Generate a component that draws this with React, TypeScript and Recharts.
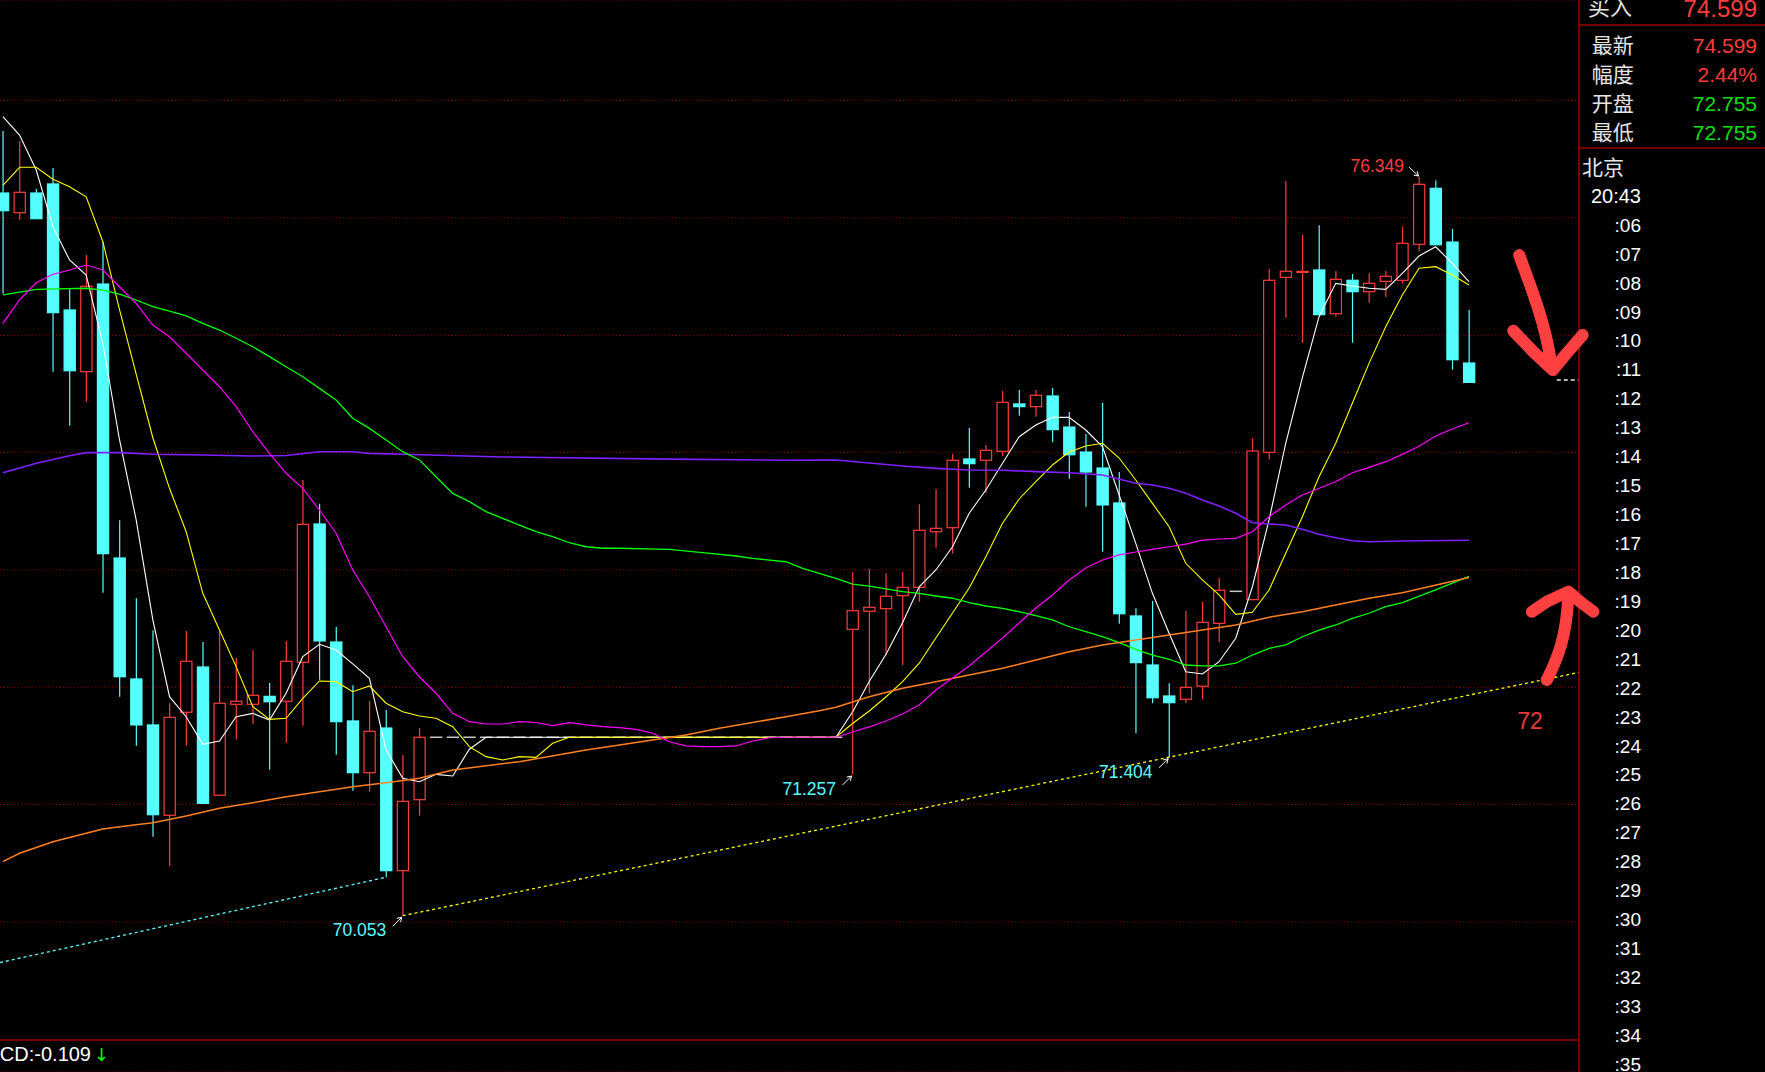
import {
  ComposedChart,
  Bar,
  Line,
  XAxis,
  YAxis,
  CartesianGrid,
  ReferenceLine,
  ReferenceDot,
} from "recharts";

// candles, oldest first (index 0 is the half-visible bar at the left edge)
const OPEN = [
  76.213, 76.045, 76.213, 76.29, 75.216, 74.69, 75.437, 73.102, 72.071, 71.679,
  70.909, 71.787, 72.173, 71.08, 71.855, 71.855, 71.923, 71.881, 72.213, 73.392,
  72.386, 71.713, 71.272, 71.653, 70.437, 71.042,
  71.574, 71.574, 71.574, 71.574, 71.574, 71.574, 71.574, 71.574, 71.574, 71.574,
  71.574, 71.574, 71.574, 71.574, 71.574, 71.574, 71.574, 71.574, 71.574, 71.574,
  71.574, 71.574, 71.574, 71.574, 71.574,
  72.494, 72.648, 72.67, 72.781, 72.852, 73.326, 73.36, 73.946, 73.935, 74.011,
  74.415, 74.392, 74.483, 74.218, 74.005, 73.869, 73.571, 72.608, 72.19, 71.926,
  71.898, 72.009, 72.545, 72.818, 72.747, 74.003, 75.494, 75.536, 75.557, 75.184,
  75.469, 75.372, 75.46, 75.469, 75.776, 76.253, 75.795, 74.764,
];
const HIGH = [
  76.741, 76.656, 76.247, 76.426, 75.392, 75.684, 75.798, 73.423, 72.759, 72.486,
  71.864, 72.48, 72.386, 72.488, 72.25, 72.318, 72.037, 72.395, 73.767, 73.565,
  72.514, 72.017, 71.883, 71.807, 71.423, 71.651,
  71.574, 71.574, 71.574, 71.574, 71.574, 71.574, 71.574, 71.574, 71.574, 71.574,
  71.574, 71.574, 71.574, 71.574, 71.574, 71.574, 71.574, 71.574, 71.574, 71.574,
  71.574, 71.574, 71.574, 71.574, 71.574,
  72.98, 73.008, 72.972, 72.983, 73.56, 73.69, 73.988, 74.21, 74.065, 74.525,
  74.534, 74.534, 74.551, 74.346, 74.159, 74.423, 73.835, 72.673, 72.736, 72.034,
  72.65, 72.727, 72.932, 72.818, 74.122, 75.565, 76.315, 75.855, 75.938, 75.548,
  75.523, 75.531, 75.548, 75.929, 76.349, 76.321, 75.906, 75.216,
];
const LOW = [
  75.355, 75.985, 75.994, 74.69, 74.23, 74.434, 72.806, 71.92, 71.502, 70.727,
  70.48, 71.502, 71.011, 71.08, 71.557, 71.685, 71.298, 71.528, 71.673, 72.065,
  71.426, 71.119, 71.11, 70.381, 70.053, 70.906,
  71.574, 71.574, 71.574, 71.574, 71.574, 71.574, 71.574, 71.574, 71.574, 71.574,
  71.574, 71.574, 71.574, 71.574, 71.574, 71.574, 71.574, 71.574, 71.574, 71.574,
  71.574, 71.574, 71.574, 71.574, 71.574,
  71.257, 71.949, 72.275, 72.19, 72.73, 73.19, 73.139, 73.701, 73.659, 73.971,
  74.315, 74.306, 74.088, 73.778, 73.539, 73.156, 72.542, 71.608, 71.864, 71.404,
  71.864, 71.898, 72.384, 72.818, 72.747, 73.943, 75.15, 74.937, 75.176, 75.159,
  74.937, 75.278, 75.329, 75.44, 75.716, 75.772, 74.707, 74.599,
];
const CLOSE = [
  76.062, 76.219, 75.994, 75.193, 74.698, 75.418, 73.139, 72.09, 71.679, 70.914,
  71.744, 72.222, 71.011, 71.864, 71.881, 71.932, 71.877, 72.222, 73.389, 72.395,
  71.707, 71.272, 71.625, 70.437, 71.028, 71.574,
  71.574, 71.574, 71.574, 71.574, 71.574, 71.574, 71.574, 71.574, 71.574, 71.574,
  71.574, 71.574, 71.574, 71.574, 71.574, 71.574, 71.574, 71.574, 71.574, 71.574,
  71.574, 71.574, 71.574, 71.574, 71.574,
  72.653, 72.682, 72.776, 72.852, 73.338, 73.355, 73.935, 73.906, 74.02, 74.429,
  74.392, 74.489, 74.196, 73.982, 73.835, 73.554, 72.627, 72.21, 71.911, 71.869,
  72.0, 72.554, 72.827, 72.818, 74.014, 75.469, 75.546, 75.545, 75.176, 75.477,
  75.372, 75.443, 75.503, 75.784, 76.287, 75.772, 74.792, 74.599,
];

// moving averages, one value per candle
const MA5 = [
  76.863, 76.707, 76.409, 75.926, 75.642, 75.514, 74.93, 74.11, 73.427, 72.575,
  71.92, 71.749, 71.514, 71.542, 71.749, 71.778, 71.721, 71.949, 72.261, 72.366,
  72.318, 72.199, 72.077, 71.466, 71.224, 71.195, 71.258, 71.244, 71.472,
  71.574, 71.574, 71.574, 71.574, 71.574, 71.574, 71.574, 71.574, 71.574, 71.574, 71.574,
  71.574, 71.574, 71.574, 71.574, 71.574, 71.574, 71.574, 71.574, 71.574, 71.574, 71.574,
  71.789, 72.05, 72.28, 72.55, 72.857, 73.0, 73.198, 73.483, 73.682, 73.909,
  74.136, 74.236, 74.301, 74.301, 74.193, 74.051, 73.639, 73.227, 72.801, 72.46,
  72.133, 72.113, 72.218, 72.418, 72.857, 73.426, 74.08, 74.64, 75.159, 75.443,
  75.42, 75.401, 75.392, 75.528, 75.676, 75.755, 75.614, 75.457,
];
const MA10 = [
  76.279, 76.432, 76.432, 76.33, 76.267, 76.181, 75.798, 75.218, 74.67, 74.127,
  73.696, 73.326, 72.801, 72.488, 72.176, 71.835, 71.727, 71.736, 71.906, 72.054,
  72.048, 71.962, 72.011, 71.864, 71.792, 71.755, 71.736, 71.664, 71.494, 71.409,
  71.38, 71.409, 71.403, 71.523,
  71.574, 71.574, 71.574, 71.574, 71.574, 71.574, 71.574, 71.574, 71.574,
  71.574, 71.574, 71.574, 71.574, 71.574, 71.574, 71.574, 71.574,
  71.691, 71.798, 71.917, 72.048, 72.205, 72.42, 72.633, 72.846, 73.113, 73.398,
  73.605, 73.752, 73.895, 74.005, 74.057, 74.08, 73.954, 73.767, 73.568, 73.369,
  73.057, 72.915, 72.787, 72.622, 72.639, 72.829, 73.142, 73.454, 73.795, 74.08,
  74.421, 74.761, 75.073, 75.344, 75.571, 75.585, 75.514, 75.429,
];
const MA20 = [
  75.102, 75.302, 75.448, 75.52, 75.557, 75.599, 75.557, 75.414, 75.273, 75.088,
  74.988, 74.847, 74.704, 74.562, 74.392, 74.178, 73.994, 73.824, 73.696, 73.511,
  73.313, 73.0, 72.772, 72.516, 72.261, 72.09, 71.949, 71.778, 71.707, 71.687,
  71.687, 71.707, 71.7, 71.673, 71.698, 71.679, 71.664, 71.656, 71.642, 71.608,
  71.536, 71.5, 71.494, 71.494, 71.5, 71.542, 71.57, 71.574, 71.574, 71.574,
  71.574,
  71.619, 71.662, 71.713, 71.772, 71.849, 71.977, 72.079, 72.182, 72.301, 72.42,
  72.548, 72.676, 72.787, 72.915, 73.017, 73.085, 73.128, 73.153, 73.176, 73.198,
  73.221, 73.255, 73.264, 73.27, 73.326, 73.454, 73.554, 73.639, 73.696, 73.752,
  73.829, 73.875, 73.923, 73.985, 74.055, 74.142, 74.201, 74.255,
];

// the slow averages are read at fewer candles
const MA60_AT = [
  0, 2, 5, 6, 7, 8, 9, 10, 11, 12, 13, 14, 15, 16, 17, 18, 19, 20, 21, 22, 23, 24, 25,
  26, 27, 28, 29, 30, 31, 32, 33, 34, 35, 36, 37, 40, 42, 44, 45, 47, 48,
  50, 51, 52, 53, 54, 55, 56, 57, 58, 59, 60, 61, 62, 63, 64, 65, 66, 67, 68, 69,
  70, 71, 72, 73, 74, 75, 76, 77, 78, 79, 80, 81, 82, 83, 84, 86, 88,
];
const MA60 = [
  75.345, 75.392, 75.401, 75.386, 75.352, 75.301, 75.244, 75.207, 75.165, 75.102,
  75.045, 74.975, 74.903, 74.818, 74.732, 74.647, 74.548, 74.449, 74.293, 74.207,
  74.108, 74.008, 73.938, 73.795, 73.653, 73.582, 73.497, 73.44, 73.383, 73.326,
  73.284, 73.232, 73.198, 73.185, 73.185, 73.176, 73.147, 73.119, 73.099, 73.07,
  73.014, 72.929, 72.88, 72.863, 72.838, 72.815, 72.801, 72.778, 72.759, 72.721,
  72.693, 72.673, 72.644, 72.61, 72.574, 72.516, 72.474, 72.431, 72.38, 72.324,
  72.275, 72.239, 72.19, 72.182, 72.182, 72.205, 72.275, 72.332, 72.361, 72.431,
  72.488, 72.531, 72.588, 72.631, 72.687, 72.721, 72.83, 72.945,
];
const MA120_AT = [
  0, 2, 4, 5, 7, 9, 12, 15, 17, 19, 21, 22, 24, 30, 40, 47, 50, 54, 56, 58,
  60, 62, 64, 66, 68, 69, 70, 71, 72, 73, 74, 75, 76, 77, 78, 79, 80, 81, 82, 84, 88,
];
const MA120 = [
  73.829, 73.909, 73.974, 74.0, 74.0, 73.986, 73.98, 73.971, 73.975, 74.008,
  74.008, 73.994, 73.986, 73.963, 73.945, 73.935, 73.937, 73.886, 73.866, 73.852,
  73.85, 73.838, 73.829, 73.809, 73.739, 73.724, 73.696, 73.653, 73.596, 73.545,
  73.483, 73.403, 73.392, 73.383, 73.347, 73.304, 73.275, 73.249, 73.241, 73.247,
  73.253,
];
const MA250_AT = [
  0, 1, 3, 5, 6, 7, 9, 11, 13, 15, 17, 19, 21, 23, 25, 27, 31, 35, 39, 41,
  43, 47, 49, 50, 52, 54, 56, 58, 60, 62, 64, 66, 68, 70, 72, 74, 76, 78, 80, 82,
  84, 88,
];
const MA250 = [
  70.514, 70.585, 70.684, 70.756, 70.792, 70.812, 70.846, 70.903, 70.969, 71.016,
  71.068, 71.11, 71.153, 71.187, 71.224, 71.295, 71.366, 71.466, 71.551, 71.593,
  71.651, 71.749, 71.801, 71.83, 71.92, 71.991, 72.048, 72.105, 72.162, 72.233,
  72.303, 72.361, 72.403, 72.446, 72.488, 72.531, 72.597, 72.644, 72.701, 72.759,
  72.806, 72.936,
];

// marked extremes: candle index and whether the label sits on the low or the high
const MARK_AT = [24, 51, 70, 85];
const MARK_KIND = ["low", "low", "low", "high"];

const GRID_PRICES = [70, 71, 72, 73, 74, 75, 76, 77];
const LAST_PRICE = 74.62;

const TIME_TICKS = [
  4, 5, 6, 7, 8, 9, 10, 11, 12, 13, 14, 15, 16, 17, 18, 19, 20,
  21, 22, 23, 24, 25, 26, 27, 28, 29, 30, 31, 32, 33, 34, 35,
];
const TIME_LABELS = [
  "北京", "20:43", ":06", ":07", ":08", ":09", ":10", ":11", ":12", ":13", ":14",
  ":15", ":16", ":17", ":18", ":19", ":20", ":21", ":22", ":23", ":24", ":25",
  ":26", ":27", ":28", ":29", ":30", ":31", ":32", ":33", ":34", ":35",
];

const PANEL_LABELS = ["最新", "幅度", "开盘", "最低"];
const PANEL_VALUES = ["74.599", "2.44%", "72.755", "72.755"];
const PANEL_UP = [true, true, false, false];

const W = 1765;
const H = 1072;
const AXIS_W = 186;
const PLOT_RIGHT = W - AXIS_W;
const X_MIN = -0.174;
const X_MAX = 94.604;
const PRICE_MIN = 68.721;
const PRICE_MAX = 77.858;
const T_MIN = -1.775;
const T_MAX = 35.279;
const CANDLE_W = 12.4;

const UP = "#ff3c3c";
const DOWN = "#55ffff";
const DOJI = "#c8c8c8";
const FRAME = "#a00000";
const GRID = "#8a0000";
const HAND = "#ff4040";
const SANS = '"Liberation Sans", Arial, sans-serif';
const CJK = '"Noto Sans CJK SC", sans-serif';

const pick = (at: number[], vals: number[], i: number) => {
  const k = at.indexOf(i);
  return k < 0 ? null : vals[k];
};

const rows = OPEN.map((open, i) => ({
  i,
  open,
  high: HIGH[i],
  low: LOW[i],
  close: CLOSE[i],
  ma5: MA5[i],
  ma10: MA10[i],
  ma20: MA20[i],
  ma60: pick(MA60_AT, MA60, i),
  ma120: pick(MA120_AT, MA120, i),
  ma250: pick(MA250_AT, MA250, i),
}));

function Candle(props: any) {
  const { x, y, width, height, payload } = props;
  if (x == null || y == null || !payload) return null;
  const cx = x + width / 2;
  const top = Math.min(y, y + height);
  const h = Math.abs(height);
  const { open, high, low, close } = payload;
  const k = high > low ? h / (high - low) : 0;
  const py = (v: number) => top + (high - v) * k;
  const half = CANDLE_W / 2;
  if (open === close) {
    return (
      <line x1={cx - half} x2={cx + half} y1={py(open)} y2={py(open)} stroke={DOJI} strokeWidth={1.5} />
    );
  }
  const up = close > open;
  const color = up ? UP : DOWN;
  const bTop = py(Math.max(open, close));
  const bBot = py(Math.min(open, close));
  return (
    <g>
      <line x1={cx} x2={cx} y1={top} y2={top + h} stroke={color} strokeWidth={1.2} />
      <rect
        x={cx - half + 0.6}
        y={bTop}
        width={CANDLE_W - 1.2}
        height={Math.max(bBot - bTop, 1)}
        fill={up ? "#000" : color}
        stroke={color}
        strokeWidth={1.2}
      />
    </g>
  );
}

function Pointer({ x1, y1, x2, y2 }: any) {
  const a = Math.atan2(y2 - y1, x2 - x1);
  const L = 5;
  const h1 = `${x2 - L * Math.cos(a - 0.55)},${y2 - L * Math.sin(a - 0.55)}`;
  const h2 = `${x2 - L * Math.cos(a + 0.55)},${y2 - L * Math.sin(a + 0.55)}`;
  return (
    <path d={`M${x1},${y1}L${x2},${y2}M${h1}L${x2},${y2}L${h2}`} stroke="#fff" strokeWidth={1} fill="none" />
  );
}

function ExtremeMark(kind: string, value: number) {
  return (p: any) => {
    const { cx, cy } = p;
    if (kind === "high") {
      return (
        <g>
          <text x={cx - 15} y={cy - 5} textAnchor="end" fill={UP} fontSize={17.5} fontFamily={SANS}>
            {value.toFixed(3)}
          </text>
          <Pointer x1={cx - 10} y1={cy - 10} x2={cx - 0.5} y2={cy - 1} />
        </g>
      );
    }
    return (
      <g>
        <text x={cx - 16.5} y={cy + 20.5} textAnchor="end" fill={DOWN} fontSize={17.5} fontFamily={SANS}>
          {value.toFixed(3)}
        </text>
        <Pointer x1={cx - 10} y1={cy + 10.5} x2={cx - 1} y2={cy + 1.5} />
      </g>
    );
  };
}

// hand-drawn marks on the screenshot, drawn relative to their anchor point
function DownScribble({ cx, cy }: any) {
  const d =
    `M${cx - 33.7},${cy - 115} C${cx - 25},${cy - 90} ${cx - 10},${cy - 55} ${cx - 3},${cy - 14}` +
    ` M${cx - 39.7},${cy - 39.3} L${cx - 19.7},${cy - 18.3} L${cx},${cy} L${cx + 13.7},${cy - 16.7} L${cx + 29.7},${cy - 35}`;
  return <path d={d} stroke={HAND} strokeWidth={12} fill="none" strokeLinecap="round" strokeLinejoin="round" />;
}

function UpScribble({ cx, cy }: any) {
  const d =
    `M${cx - 21.6},${cy + 88.3} C${cx - 10},${cy + 65} ${cx - 2},${cy + 45} ${cx},${cy + 3}` +
    ` M${cx - 36.6},${cy + 20} L${cx - 21.6},${cy + 10} L${cx},${cy} L${cx + 11.7},${cy + 10} L${cx + 25},${cy + 20}`;
  return (
    <g>
      <path d={d} stroke={HAND} strokeWidth={12} fill="none" strokeLinecap="round" strokeLinejoin="round" />
      <text x={cx - 51.3} y={cy + 137.6} fill="#e83a3a" fontSize={23} fontFamily={SANS}>
        72
      </text>
    </g>
  );
}

function TimeTick(props: any) {
  const { y, payload } = props;
  const label = TIME_LABELS[TIME_TICKS.indexOf(payload.value)];
  if (payload.value === 4) {
    return (
      <text x={PLOT_RIGHT + 3} y={y} dy="0.38em" fill="#e8e8e8" fontSize={21} fontFamily={CJK}>
        {label}
      </text>
    );
  }
  return (
    <text
      x={PLOT_RIGHT + 62}
      y={y}
      dy="0.36em"
      textAnchor="end"
      fill="#fff"
      fontSize={payload.value === 5 ? 20 : 19}
      fontFamily={SANS}
    >
      {label}
    </text>
  );
}

function InfoPanel() {
  return (
    <svg width={W} height={H} style={{ position: "absolute", left: 0, top: 0, pointerEvents: "none" }}>
      <line x1={PLOT_RIGHT} x2={W} y1={25} y2={25} stroke={FRAME} strokeWidth={1.5} />
      <line x1={PLOT_RIGHT} x2={W} y1={148} y2={148} stroke={FRAME} strokeWidth={1.5} />
      <line x1={0} x2={PLOT_RIGHT} y1={1040} y2={1040} stroke={FRAME} strokeWidth={1.5} />
      <text x={1588} y={14.5} fill="#e6e6e6" fontSize={22} fontFamily={CJK}>
        买入
      </text>
      <text x={1757} y={16.7} textAnchor="end" fill={UP} fontSize={24} fontFamily={SANS}>
        74.599
      </text>
      {PANEL_LABELS.map((label, k) => (
        <g key={label}>
          <text x={1591.7} y={52.7 + k * 29.1} fill="#e6e6e6" fontSize={21} fontFamily={CJK}>
            {label}
          </text>
          <text
            x={1757}
            y={52.7 + k * 29.1}
            textAnchor="end"
            fill={PANEL_UP[k] ? UP : "#10e010"}
            fontSize={21}
            fontFamily={SANS}
          >
            {PANEL_VALUES[k]}
          </text>
        </g>
      ))}
      <text x={91} y={1060.5} textAnchor="end" fill="#fff" fontSize={20} fontFamily={SANS}>
        MACD:-0.109
      </text>
      <text x={94} y={1061} fill="#00ff00" fontSize={18} fontFamily='"DejaVu Sans", sans-serif'>
        ↓
      </text>
    </svg>
  );
}

export default function App() {
  return (
    <div
      style={{
        position: "fixed",
        left: 0,
        top: 0,
        width: W,
        height: H,
        background: "#000",
        overflow: "hidden",
      }}
    >
      <ComposedChart width={W} height={H} data={rows} margin={{ top: 0, right: 0, bottom: 0, left: 0 }}>
        <XAxis dataKey="i" type="number" domain={[X_MIN, X_MAX]} allowDataOverflow hide />
        <YAxis
          yAxisId="price"
          type="number"
          domain={[PRICE_MIN, PRICE_MAX]}
          ticks={GRID_PRICES}
          allowDataOverflow
          hide
        />
        <YAxis
          yAxisId="time"
          orientation="right"
          type="number"
          width={AXIS_W}
          domain={[T_MIN, T_MAX]}
          reversed
          allowDataOverflow
          ticks={TIME_TICKS}
          interval={0}
          tick={<TimeTick />}
          tickLine={false}
          tickSize={0}
          axisLine={{ stroke: FRAME, strokeWidth: 1.5 }}
        />
        <CartesianGrid yAxisId="price" vertical={false} stroke={GRID} strokeDasharray="1.2 2.3" />

        <Bar
          yAxisId="price"
          dataKey={(d: any) => [d.low, d.high]}
          shape={Candle}
          barSize={13}
          isAnimationActive={false}
        />

        <Line yAxisId="price" dataKey="ma5" stroke="#ffffff" strokeWidth={1.1} dot={false} activeDot={false} isAnimationActive={false} />
        <Line yAxisId="price" dataKey="ma10" stroke="#ffff00" strokeWidth={1.1} dot={false} activeDot={false} isAnimationActive={false} />
        <Line yAxisId="price" dataKey="ma120" stroke="#8020ff" strokeWidth={1.6} dot={false} activeDot={false} connectNulls isAnimationActive={false} />
        <Line yAxisId="price" dataKey="ma60" stroke="#00ff00" strokeWidth={1.3} dot={false} activeDot={false} connectNulls isAnimationActive={false} />
        <Line yAxisId="price" dataKey="ma250" stroke="#ff8020" strokeWidth={1.5} dot={false} activeDot={false} connectNulls isAnimationActive={false} />
        <Line yAxisId="price" dataKey="ma20" stroke="#ff00ff" strokeWidth={1.2} dot={false} activeDot={false} isAnimationActive={false} />

        <ReferenceLine
          yAxisId="price"
          segment={[
            { x: X_MIN, y: 69.654 },
            { x: 23, y: LOW[23] },
          ]}
          stroke={DOWN}
          strokeWidth={1.3}
          strokeDasharray="3 3"
          ifOverflow="visible"
        />
        <ReferenceLine
          yAxisId="price"
          segment={[
            { x: 24, y: LOW[24] },
            { x: X_MAX, y: 72.127 },
          ]}
          stroke="#ffff00"
          strokeWidth={1.3}
          strokeDasharray="3 3"
          ifOverflow="visible"
        />
        <ReferenceLine
          yAxisId="price"
          segment={[
            { x: 93.27, y: LAST_PRICE },
            { x: X_MAX, y: LAST_PRICE },
          ]}
          stroke="#f0f0d8"
          strokeWidth={1.5}
          strokeDasharray="4 3"
          ifOverflow="visible"
        />

        {MARK_AT.map((at, k) => {
          const value = MARK_KIND[k] === "high" ? HIGH[at] : LOW[at];
          return (
            <ReferenceDot
              key={at}
              yAxisId="price"
              x={at}
              y={value}
              r={0}
              shape={ExtremeMark(MARK_KIND[k], value)}
              ifOverflow="visible"
            />
          );
        })}

        <ReferenceDot yAxisId="price" x={93.04} y={74.704} r={0} shape={DownScribble} ifOverflow="visible" />
        <ReferenceDot yAxisId="price" x={93.97} y={72.815} r={0} shape={UpScribble} ifOverflow="visible" />
      </ComposedChart>
      <InfoPanel />
    </div>
  );
}
